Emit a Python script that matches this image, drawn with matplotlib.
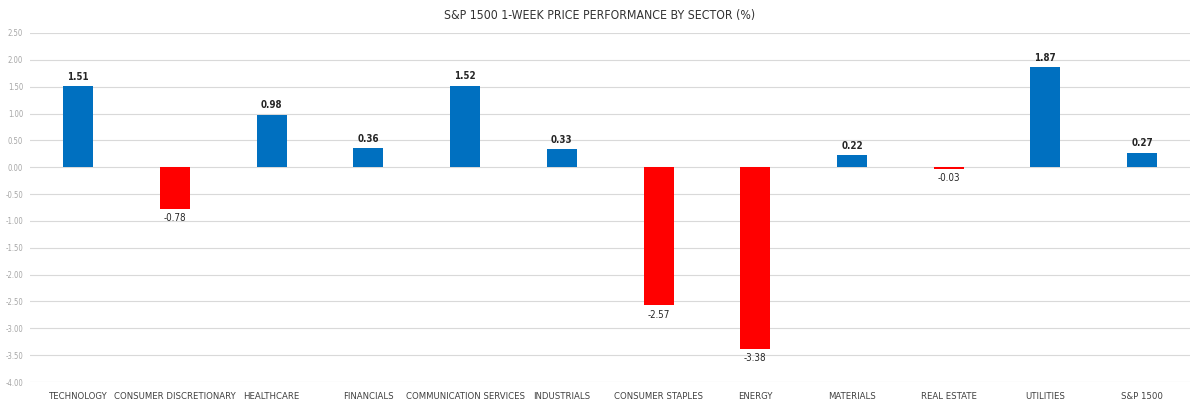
import matplotlib
matplotlib.use("Agg")
import matplotlib.pyplot as plt
import numpy as np

sectors = ["TECHNOLOGY", "CONSUMER DISCRETIONARY", "HEALTHCARE", "FINANCIALS",
           "COMMUNICATION SERVICES", "INDUSTRIALS", "CONSUMER STAPLES", "ENERGY",
           "MATERIALS", "REAL ESTATE", "UTILITIES", "S&P 1500"]
perf = [1.51, -0.78, 0.98, 0.36, 1.52, 0.33, -2.57, -3.38, 0.22, -0.03, 1.87, 0.27]
y_ticks = np.arange(-4.0, 2.51, 0.5)

# condensed face to mimic the narrow font of the original
plt.rcParams["font.family"] = ["DejaVu Sans"]
plt.rcParams["font.stretch"] = "condensed"

fig = plt.figure(figsize=(12, 4.07), dpi=100)
ax = fig.add_axes([0.025, 0.0614, 0.967, 0.8576])

x = np.arange(len(sectors))
colors = ["#0070C0" if v >= 0 else "#FF0000" for v in perf]
ax.bar(x, perf, width=0.31, color=colors, zorder=3)

# Value labels above positive bars, below negative ones
for xi, v in zip(x, perf):
    if v >= 0:
        ax.text(xi, v + 0.08, f"{v:.2f}", ha="center", va="bottom",
                fontsize=7, color="#262626", fontweight="bold")
    else:
        ax.text(xi, v - 0.08, f"{v:.2f}", ha="center", va="top",
                fontsize=7, color="#262626")

ax.set_xlim(-0.5, len(sectors) - 0.5)
ax.set_ylim(-4.0, 2.5)
ax.set_yticks(y_ticks)
ax.set_yticklabels([f"{t:.2f}" for t in y_ticks], fontsize=5.5, color="#a6a6a6")
ax.set_xticks(x)
ax.set_xticklabels(sectors, fontsize=6.8, color="#404040")
ax.tick_params(axis="x", length=0, pad=7)
ax.tick_params(axis="y", length=0, pad=5)
ax.grid(axis="y", color="#d9d9d9", linewidth=0.8, zorder=0)
for s in ax.spines.values():
    s.set_visible(False)

fig.text(0.5, 0.962, "S&P 1500 1-WEEK PRICE PERFORMANCE BY SECTOR (%)",
         ha="center", va="center", fontsize=8.8, color="#333333")

fig.savefig("out.png", dpi=100)
